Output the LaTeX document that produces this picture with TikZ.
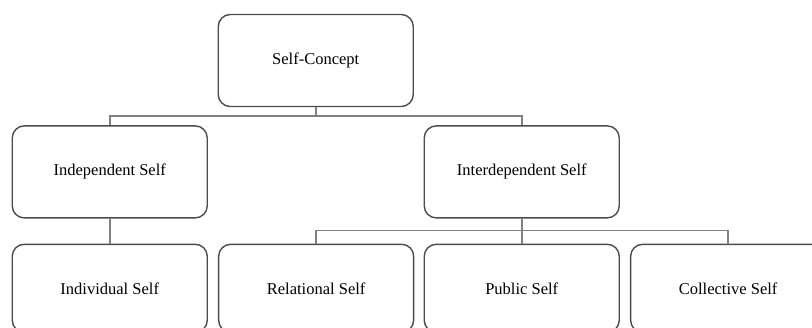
\documentclass[tikz,border=0pt]{standalone}
\usepackage{fontspec}
\setmainfont{Liberation Serif}
\usetikzlibrary{positioning}
\begin{document}
\begin{tikzpicture}[node distance=18pt and 10pt,
box/.style={
% The shape:
rectangle,
draw=black!70,
line width=1.4pt,
rounded corners=12pt,
minimum width=195pt,
minimum height=92pt,
text=black,
font=\fontsize{16.5}{19}\selectfont
},
leaf/.style={
box,minimum height=88pt
},
link/.style={
draw=black!50,line width=1.5pt
}
]
\useasboundingbox (0,0) rectangle (812pt,-327pt);
\clip (0,0) rectangle (812pt,-327pt);
% Top:
\node (concept) [box] at (315.75pt,-60.5pt) {Self-Concept};
% Second row:
\node (indep) [box,below=18pt of concept,xshift=-206pt] {Independent Self};
\node (inter) [box,below=18pt of concept,xshift=206pt] {Interdependent Self};
% Third row:
\node (individual) [leaf,below=25pt of indep,anchor=north] {Individual Self};
\node (relational) [leaf,right=of individual] {Relational Self};
\node (public) [leaf,below=25pt of inter] {Public Self};
\node (collective) [leaf,right=of public] {Collective Self};
\draw[link] (concept.south) -- ++(0,-9pt) coordinate (bus1) -| (indep.north) (bus1) -| (inter.north);
\draw[link] (indep) -- (individual);
\draw[link] (inter.south) -- ++(0,-12pt) coordinate (bus2) -| (relational.north) (bus2) -| (collective.north) (bus2) -- (public.north);
\end{tikzpicture}
\end{document}
